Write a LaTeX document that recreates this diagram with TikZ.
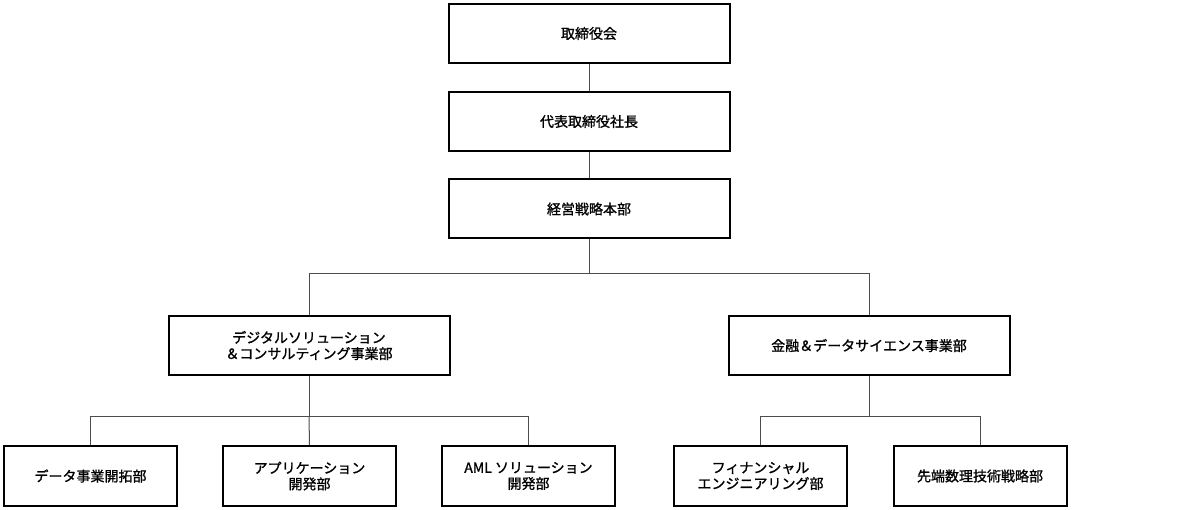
\documentclass[tikz,border=0pt]{standalone}
\usepackage{fontspec}
\newfontfamily\jp[FakeBold=1.2]{Noto Sans CJK JP}
\usetikzlibrary{positioning,calc}

\tikzset{
	unit/.style={draw, line width=2pt, minimum width=281pt, minimum height=59pt, inner sep=0pt, align=center, font=\jp\fontsize{14pt}{16pt}\selectfont},
	subunit/.style={unit, minimum width=173pt, minimum height=60pt},
	link/.style={line width=1pt, black!70}
}

\begin{document}
\begin{tikzpicture}[x=1pt,y=-1pt]
			\useasboundingbox (0,0) rectangle (1200,510);
			\node[unit] (board) at (589,33.5) {取締役会};
			\node[unit] (ceo) at (589,121.5) {代表取締役社長};
			\node[unit] (strat) at (589,209) {経営戦略本部};
			\node[unit] (dx) at (309,345.5) {デジタルソリューション\\＆コンサルティング事業部};
			\node[unit] (fin) at (869,345.5) {金融＆データサイエンス事業部};
			\node[subunit] (data) at (90.5,476) {データ事業開拓部};
			\node[subunit] (app) at (309.5,476) {アプリケーション\\開発部};
			\node[subunit] (aml) at (528.5,476) {AML ソリューション\\開発部};
			\node[subunit] (fe) at (760.5,476) {フィナンシャル\\エンジニアリング部};
			\node[subunit] (adv) at (980,476) {先端数理技術戦略部};
			\draw[link] (board) -- (ceo);
			\draw[link] (ceo) -- (strat);
			\draw[link] (strat.south) -- ++(0,34) coordinate (split) -| (dx.north);
			\draw[link] (split) -| (fin.north);
			\draw[link] (dx.south) -- ++(0,41) coordinate (dxsplit) -| (data.north);
			\draw[link] (dxsplit) -- (app.north);
			\draw[link] (dxsplit) -| (aml.north);
			\draw[link] (fin.south) -- ++(0,41) coordinate (finsplit) -| (fe.north);
			\draw[link] (finsplit) -| (adv.north);
	\end{tikzpicture}
\end{document}
